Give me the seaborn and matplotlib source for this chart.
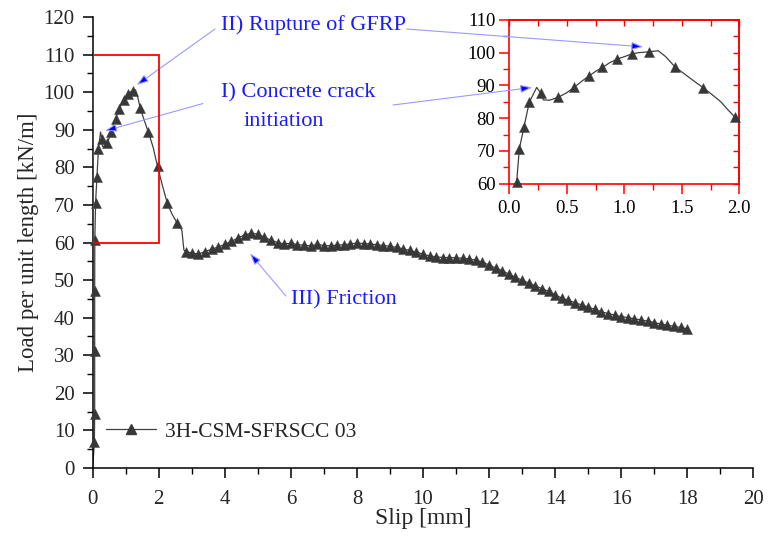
import matplotlib
matplotlib.use("Agg")
import matplotlib.pyplot as plt
import numpy as np
import pandas as pd
import seaborn as sns
from matplotlib.lines import Line2D
from matplotlib.patches import Rectangle
from matplotlib.ticker import MultipleLocator

# ---------------- data ----------------
slip = [0.00, 0.05, 0.06, 0.06, 0.06, 0.064, 0.087, 0.128, 0.174, 0.238,
        0.276, 0.296, 0.35, 0.426, 0.50, 0.563, 0.63, 0.693, 0.75, 0.81,
        0.87, 0.934, 1.00, 1.064, 1.12, 1.217, 1.296, 1.36, 1.44, 1.52,
        1.60, 1.687, 1.76, 1.84, 1.90, 1.963, 2.10, 2.26, 2.40, 2.56,
        2.70, 2.76, 2.82,
        3.0, 3.2, 3.4, 3.6, 3.8, 4.0, 4.2, 4.4, 4.6, 4.8,
        5.0, 5.2, 5.4, 5.6, 5.8, 6.0, 6.2, 6.4, 6.6, 6.8,
        7.0, 7.2, 7.4, 7.6, 7.8, 8.0, 8.2, 8.4, 8.6, 8.8,
        9.0, 9.2, 9.4, 9.6, 9.8, 10.0, 10.2, 10.4, 10.6, 10.8,
        11.0, 11.2, 11.4, 11.6, 11.8, 12.0, 12.2, 12.4, 12.6, 12.8,
        13.0, 13.2, 13.4, 13.6, 13.8, 14.0, 14.2, 14.4, 14.6, 14.8,
        15.0, 15.2, 15.4, 15.6, 15.8, 16.0, 16.2, 16.4, 16.6, 16.8,
        17.0, 17.2, 17.4, 17.6, 17.8, 18.0]
load = [0.0, 7.0, 14.5, 31.0, 47.0, 60.6, 70.6, 77.4, 84.9, 89.4,
        87.6, 85.6, 85.5, 86.4, 87.8, 89.4, 91.3, 92.9, 94.3, 95.5,
        96.9, 98.0, 98.8, 99.6, 100.0, 100.3, 100.6, 98.8, 95.7, 93.6,
        91.5, 89.3, 87.3, 85.0, 82.6, 80.3, 75.5, 70.4, 67.6, 65.1,
        63.3, 58.0, 57.6,
        57.2, 56.9, 57.6, 58.2, 58.8, 59.5, 60.3, 61.2, 62.0, 62.5,
        62.2, 61.4, 60.6, 60.0, 59.6, 59.8, 59.4, 59.3, 59.1, 59.5,
        59.2, 59.1, 59.3, 59.4, 59.6, 59.9, 59.7, 59.6, 59.4, 59.2,
        59.0, 58.7, 58.3, 57.9, 57.4, 56.9, 56.4, 56.2, 56.0, 56.0,
        55.9, 55.8, 55.6, 55.3, 54.8, 54.0, 53.2, 52.5, 51.6, 50.7,
        50.0, 49.2, 48.5, 47.7, 47.0, 46.1, 45.2, 44.6, 44.0, 43.4,
        42.8, 42.2, 41.6, 41.1, 40.7, 40.3, 40.0, 39.7, 39.4, 39.1,
        38.7, 38.3, 38.0, 37.7, 37.4, 37.0]
# 1 = point carries a triangle symbol, 0 = trace only
symbol = [0, 1, 1, 1, 1, 1, 1, 1, 1, 0,
          1, 0, 0, 1, 0, 1, 0, 1, 0, 1,
          0, 1, 0, 1, 0, 1, 0, 0, 1, 0,
          0, 1, 0, 0, 0, 1, 0, 1, 0, 1,
          0, 0, 1] + [1] * 76

series_name = "3H-CSM-SFRSCC 03"
x_ticks_main = list(range(0, 21, 2))
y_ticks_main = list(range(0, 121, 10))
zoom_x = [0.0, 2.0]
zoom_y = [60.0, 110.0]
txt_rupture = "II) Rupture of GFRP"
txt_crack1 = "I) Concrete crack"
txt_crack2 = "initiation"
txt_friction = "III) Friction"

df = pd.DataFrame({"slip": slip, "load": load, "symbol": symbol})
marks = df[df["symbol"] == 1]

# ---------------- style ----------------
sns.set_theme(style="ticks")
plt.rcParams["font.family"] = ["Liberation Serif", "DejaVu Serif"]

W, H = 768, 538
fig = plt.figure(figsize=(W / 100, H / 100), dpi=100)
fx = lambda px: px / W
fy = lambda py: 1 - py / H

line_col = "#404040"
mark_col = "#383838"
blue = "#1a1aff"

ax = fig.add_axes([fx(92.7), fy(468), fx(753.3) - fx(92.7), fy(17) - fy(468)])
sns.lineplot(data=df, x="slip", y="load", sort=False, estimator=None,
             color=line_col, lw=0.9, ax=ax, zorder=2)
sns.scatterplot(data=marks, x="slip", y="load", marker="^", s=52,
                color=mark_col, edgecolor=mark_col, linewidth=0.3,
                ax=ax, clip_on=False, zorder=3, legend=False)
ax.set_xlim(0, 20)
ax.set_ylim(0, 120)
ax.set_xticks(x_ticks_main)
ax.set_yticks(y_ticks_main)
ax.xaxis.set_minor_locator(MultipleLocator(1))
ax.yaxis.set_minor_locator(MultipleLocator(5))
sns.despine(ax=ax)
for s in ["left", "bottom"]:
    ax.spines[s].set_linewidth(1.1)
    ax.spines[s].set_color("black")
ax.tick_params(which="major", direction="out", length=7, width=1.1,
               color="black", labelsize=15, pad=6)
ax.tick_params(which="minor", direction="out", length=4, width=1.0,
               color="black")
ax.tick_params(axis="x", which="major", pad=9)
ax.set_xlabel("Slip [mm]", fontsize=17, labelpad=-1)
ax.set_ylabel("Load per unit length [kN/m]", fontsize=16.5, labelpad=3)

# zoom rectangle
ax.add_patch(Rectangle((zoom_x[0], zoom_y[0]), zoom_x[1] - zoom_x[0],
                       zoom_y[1] - zoom_y[0], fill=False, ec="red",
                       lw=1.3, zorder=4))

# legend
handle = Line2D([], [], color=line_col, lw=0.9, marker="^", ms=7,
                mfc=mark_col, mec=mark_col)
ax.legend([handle], [series_name], loc="center left",
          bbox_to_anchor=(fx(106), fy(431.7)), bbox_transform=fig.transFigure,
          frameon=False, fontsize=15.5, handlelength=2.3, handletextpad=0.45,
          borderpad=0, borderaxespad=0)

# ---------------- inset ----------------
axi = fig.add_axes([fx(509.3), fy(183.7), fx(739.3) - fx(509.3),
                    fy(20) - fy(183.7)])
sns.lineplot(data=df, x="slip", y="load", sort=False, estimator=None,
             color=line_col, lw=0.9, ax=axi, zorder=2)
in_marks = marks[(marks["slip"] >= zoom_x[0]) & (marks["slip"] <= zoom_x[1])
                 & (marks["load"] >= zoom_y[0]) & (marks["load"] <= zoom_y[1])]
sns.scatterplot(data=in_marks, x="slip", y="load", marker="^", s=52,
                color=mark_col, edgecolor=mark_col, linewidth=0.3,
                ax=axi, clip_on=False, zorder=3, legend=False)
axi.set_xlim(*zoom_x)
axi.set_ylim(*zoom_y)
axi.set_xlabel("")
axi.set_ylabel("")
axi.xaxis.set_major_locator(MultipleLocator(0.5))
axi.xaxis.set_minor_locator(MultipleLocator(0.25))
axi.yaxis.set_major_locator(MultipleLocator(10))
axi.yaxis.set_minor_locator(MultipleLocator(5))
axi.xaxis.set_major_formatter(matplotlib.ticker.FormatStrFormatter("%.1f"))
for s in axi.spines.values():
    s.set_color("red")
    s.set_linewidth(1.2)
    s.set_visible(True)
axi.tick_params(which="major", direction="out", length=7, width=1.1,
                color="red", labelcolor="black", labelsize=13.5, pad=3)
axi.tick_params(which="minor", direction="out", length=4, width=1.0,
                color="red")
axi.tick_params(axis="x", which="major", pad=5)

secx = axi.secondary_xaxis("top")
secx.xaxis.set_major_locator(MultipleLocator(0.5))
secx.xaxis.set_minor_locator(MultipleLocator(0.25))
secx.tick_params(which="both", direction="in", length=4, width=1.0,
                 color="red", labeltop=False)
secx.spines["top"].set_color("red")
secx.spines["top"].set_linewidth(1.2)
secy = axi.secondary_yaxis("right")
secy.yaxis.set_major_locator(MultipleLocator(10))
secy.yaxis.set_minor_locator(MultipleLocator(5))
secy.tick_params(which="both", direction="in", length=4, width=1.0,
                 color="red", labelright=False)
secy.spines["right"].set_color("red")
secy.spines["right"].set_linewidth(1.2)

# ---------------- annotations ----------------
arrow = dict(arrowstyle="-|>,head_length=0.5,head_width=0.17",
             ec="#9a9aff", fc="#0000ff", lw=0.8, shrinkA=0, shrinkB=0,
             mutation_scale=14)
ax.annotate("", xy=(1.33, 101.9), xycoords="data",
            xytext=(fx(215), fy(29)), textcoords="figure fraction",
            arrowprops=arrow, annotation_clip=False)
axi.annotate("", xy=(1.165, 101.8), xycoords="data",
             xytext=(fx(406.7), fy(29)), textcoords="figure fraction",
             arrowprops=arrow, annotation_clip=False)
ax.annotate("", xy=(0.37, 89.7), xycoords="data",
            xytext=(fx(203), fy(103.5)), textcoords="figure fraction",
            arrowprops=arrow, annotation_clip=False)
axi.annotate("", xy=(0.2, 89.4), xycoords="data",
             xytext=(fx(393), fy(105)), textcoords="figure fraction",
             arrowprops=arrow, annotation_clip=False)
ax.annotate("", xy=(4.76, 57.1), xycoords="data",
            xytext=(fx(286), fy(296)), textcoords="figure fraction",
            arrowprops=arrow, annotation_clip=False)

fig.text(fx(221), fy(25), txt_rupture, color=blue, fontsize=16,
         ha="left", va="center")
fig.text(fx(221), fy(93), txt_crack1, color=blue, fontsize=16,
         ha="left", va="center")
fig.text(fx(244), fy(121.5), txt_crack2, color=blue, fontsize=16,
         ha="left", va="center")
fig.text(fx(291), fy(300), txt_friction, color=blue, fontsize=16,
         ha="left", va="center")

fig.savefig("out.png", dpi=100)
